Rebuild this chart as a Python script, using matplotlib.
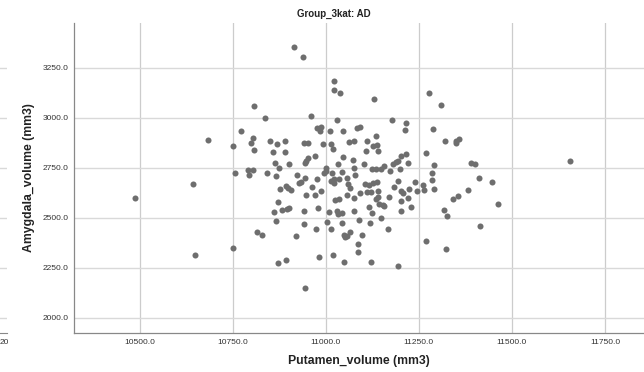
import numpy as np
import matplotlib
matplotlib.use("Agg")
import matplotlib.pyplot as plt
from matplotlib.ticker import FormatStrFormatter
from matplotlib.transforms import Bbox, TransformedBbox

plt.rcParams['font.family'] = ['Liberation Sans', 'DejaVu Sans']

# Putamen volume (x) and Amygdala volume (y)
putamen = [10913, 10939, 11022, 11022, 11038, 11130, 11276, 11310, 10806, 10837,
           10960, 11030, 11179, 11216, 11213, 11287, 10975, 10987, 10984, 11010,
           11045, 11083, 11091, 10771, 10684, 10805, 10798, 10808, 10849, 10868,
           10891, 10751, 10859, 10890, 10940, 10951, 10991, 11013, 11019, 11061,
           11076, 11111, 11136, 11127, 11137, 11140, 11109, 11321, 11349, 11357,
           11351, 10972, 10953, 10946, 10944, 10863, 10874, 10901, 11047, 11073,
           11032, 11103, 11157, 11147, 11134, 11124, 11180, 11188, 11194, 11202,
           11215, 11221, 11269, 11390, 11401, 11655, 11290, 10755, 10792, 10805,
           10793, 10842, 10866, 10923, 10943, 10934, 10975, 11001, 10999, 10995,
           11017, 11021, 11015, 11022, 11035, 11044, 11056, 11060, 11064, 11076,
           11078, 11173, 11198, 11105, 11116, 11127, 11138, 11193, 11239, 11260,
           11263, 11244, 11223, 11202, 11207, 11182, 11284, 11284, 11412, 11447,
           10642, 10892, 10876, 10899, 10905, 10929, 10962, 10947, 10970, 10988,
           11058, 11076, 11092, 11110, 11121, 11139, 11140, 11134, 11153, 11142,
           11156, 11169, 11203, 11220, 11024, 11035, 10872, 10861, 10881, 10896,
           10901, 10866, 10940, 10978, 11009, 11030, 11033, 11042, 11076, 11116,
           11125, 11147, 11203, 11228, 10940, 10974, 11003, 11015, 11042, 11089,
           11119, 11167, 10816, 10828, 10921, 11049, 11051, 11056, 11064, 11096,
           11085, 11085, 11019, 11048, 11122, 11194, 11270, 11318, 11325, 11341,
           11356, 11381, 11463, 11414, 11324, 10488, 10647, 10751, 10871, 10893,
           10943, 10982, 11290]
amygdala = [3354, 3304, 3187, 3139, 3124, 3094, 3125, 3065, 3059, 3002,
            3010, 2992, 2989, 2977, 2942, 2945, 2948, 2954, 2937, 2935,
            2935, 2948, 2954, 2937, 2890, 2898, 2877, 2840, 2887, 2871,
            2887, 2858, 2831, 2831, 2873, 2873, 2870, 2868, 2845, 2881,
            2883, 2884, 2909, 2858, 2865, 2836, 2836, 2883, 2885, 2895,
            2876, 2811, 2799, 2785, 2777, 2776, 2751, 2769, 2807, 2789,
            2772, 2769, 2761, 2747, 2746, 2746, 2768, 2780, 2787, 2810,
            2818, 2774, 2824, 2775, 2770, 2786, 2763, 2726, 2741, 2740,
            2713, 2726, 2710, 2717, 2702, 2678, 2693, 2752, 2737, 2726,
            2723, 2693, 2685, 2676, 2696, 2731, 2701, 2668, 2651, 2748,
            2715, 2737, 2743, 2671, 2665, 2673, 2678, 2686, 2680, 2663,
            2640, 2636, 2646, 2636, 2626, 2654, 2726, 2690, 2702, 2682,
            2671, 2661, 2645, 2648, 2640, 2676, 2656, 2615, 2615, 2636,
            2616, 2600, 2623, 2632, 2628, 2636, 2607, 2597, 2567, 2570,
            2560, 2607, 2587, 2598, 2590, 2597, 2580, 2530, 2540, 2544,
            2550, 2487, 2535, 2550, 2528, 2537, 2520, 2527, 2537, 2554,
            2524, 2499, 2537, 2554, 2469, 2444, 2481, 2444, 2475, 2490,
            2474, 2447, 2432, 2416, 2408, 2416, 2403, 2410, 2431, 2416,
            2372, 2331, 2316, 2281, 2281, 2260, 2386, 2540, 2508, 2595,
            2610, 2638, 2570, 2458, 2343, 2602, 2315, 2348, 2275, 2290,
            2148, 2304, 2647]

x_ticks = [10500, 10750, 11000, 11250, 11500, 11750]
y_ticks = [2000, 2250, 2500, 2750, 3000, 3250]

W, H = 644, 372
fig = plt.figure(figsize=(W / 100, H / 100), dpi=100)

left, bottom, top = 74 / W, 1 - 333 / H, 1 - 23 / H
ax = fig.add_axes([left, bottom, 1 - left, top - bottom])
ax.set_xlim(10323, 11855)
ax.set_ylim(1925, 3475)

ax.set_xticks(x_ticks)
ax.set_yticks(y_ticks)
ax.xaxis.set_major_formatter(FormatStrFormatter('%.1f'))
ax.yaxis.set_major_formatter(FormatStrFormatter('%.1f'))
ax.tick_params(length=0, labelsize=6, colors='#333333', pad=4)
ax.grid(axis='x', color='#cccccc', lw=0.9)
ax.grid(axis='y', color='#d9d9d9', lw=1.0)
ax.set_axisbelow(True)
for s in ['top', 'right']:
    ax.spines[s].set_visible(False)
for s in ['left', 'bottom']:
    ax.spines[s].set_color('#888888')
    ax.spines[s].set_linewidth(0.9)

ax.scatter(putamen, amygdala, s=19, color='#6e6e6e', linewidths=0, zorder=3)

ax.set_xlabel('Putamen_volume (mm3)', fontsize=8.8, fontweight='bold',
              color='#222222', labelpad=7)
ax.set_ylabel('Amygdala_volume (mm3)', fontsize=8.8, fontweight='bold',
              color='#222222', labelpad=5)
fig.text(334 / W, 1 - 14 / H, 'Group_3kat: AD', fontsize=7, fontweight='bold',
         ha='center', va='center', color='#222222')

# edge of the neighbouring panel on the left
stub = fig.add_axes([-0.1, bottom, 0.1 + 7 / W, top - bottom])
stub.set_ylim(1925, 3475)
stub.set_yticks(y_ticks)
stub.set_xticks([])
stub.tick_params(length=0, labelleft=False)
stub.grid(axis='y', color='#d9d9d9', lw=1.0)
for s in ['top', 'right', 'left']:
    stub.spines[s].set_visible(False)
stub.spines['bottom'].set_color('#888888')
t = fig.text(0, 1 - 343 / H, '20', fontsize=6, color='#333333',
             va='center', ha='left')
t.set_clip_box(TransformedBbox(Bbox([[0, 0], [7.5 / W, 1]]), fig.transFigure))
t.set_clip_on(True)

fig.savefig('out.png', dpi=100)
